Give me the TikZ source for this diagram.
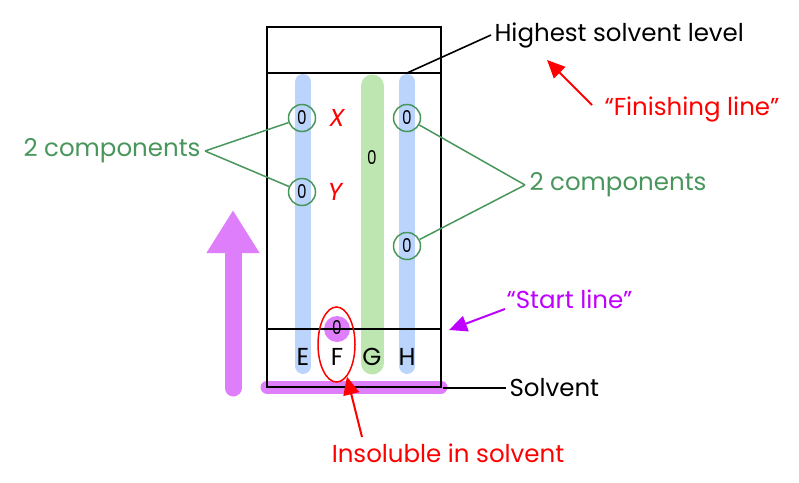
\documentclass[tikz,border=0pt]{standalone}
\usepackage{fontspec}
\setmainfont{Poppins}
\usetikzlibrary{positioning,arrows.meta,shapes.geometric}
\definecolor{laneblue}{RGB}{186,212,252}
\definecolor{lanegreen}{RGB}{190,230,176}
\definecolor{compgreen}{RGB}{72,150,92}
\definecolor{solvpurple}{RGB}{222,126,250}
\definecolor{startpurple}{RGB}{190,0,255}
\newcommand{\spotnum}{\scalebox{0.8}[1]{0}}
\begin{document}
\begin{tikzpicture}[x=1pt,y=-1pt,font=\fontsize{24.5}{28}\selectfont,
  lane/.style={line width=16pt,line cap=round,laneblue},
  spot/.style={circle,draw=compgreen,line width=1.5pt,minimum size=27pt,inner sep=0pt,font=\fontsize{19}{19}\selectfont},
  dot/.style={inner sep=0pt,font=\fontsize{19}{19}\selectfont},
  wall/.style={line width=1.6pt},
  pointer/.style={line width=2pt,-{Triangle[length=18pt,width=16pt]}},
  comp/.style={compgreen,line width=1.5pt}]
 \useasboundingbox (0,0) rectangle (799,482);
 % lanes and solvent
 \draw[lane] (303,82) -- (303,366);
 \draw[lane] (407,82) -- (407,366);
 \draw[lane,lanegreen,line width=23pt] (372,86) -- (372,363);
 \draw[solvpurple,line width=13pt,line cap=round] (267,387) -- (441,387);
 \fill[solvpurple] (337,329) circle (13);
 % beaker
 \draw[wall] (267,27) rectangle (441,387);
 \draw[wall] (267,73) -- (441,73);
 \draw[wall] (267,329) -- (441,329);
 \coordinate (level) at (407,73);
 \coordinate (start) at (449,330);
 \coordinate (bottom) at (443,388);
 % spots
 \node[spot] (E_1) at (302,118) {\spotnum};
 \node[spot] (E_2) at (302,192) {\spotnum};
 \node[spot] (H_1) at (407,118) {\spotnum};
 \node[spot] (H_2) at (407,246) {\spotnum};
 \node[dot] (G_1) at (372,158) {\spotnum};
 \node[dot] (F_1) at (337,328) {\spotnum};
 \node[red] (X) at (337,118) {\itshape X};
 \node[red] (Y) at (335,192) {\itshape Y};
 \node (E) at (303,357) {E};
 \node (F) at (337,357) {F};
 \node (G) at (372,357) {G};
 \node (H) at (407,357) {H};
 \node[ellipse,draw=red,line width=1.5pt,minimum width=37pt,minimum height=75pt,inner sep=0pt] (F_ring) at (336.5,344.5) {};
 % labels
 \coordinate (l_fork) at (205,151);
 \coordinate (r_fork) at (525,185);
 \node[compgreen,left=1pt of l_fork] (l_comp) {2 components};
 \node[compgreen,right=1pt of r_fork] (r_comp) {2 components};
 \path[comp] (l_fork) edge (E_1) edge (E_2);
 \path[comp] (r_fork) edge (H_1) edge (H_2);
 \node[anchor=west] (hsl) at (491,35) {Highest solvent level};
 \draw[wall] (level) -- (hsl.west);
 \node[red,anchor=west] (fin) at (601,109) {“Finishing line”};
 \coordinate (fin_tip) at (547,60);
 \draw[pointer,red] (fin.west) ++(-9,-4) coordinate (fin_tail) (fin_tail) -- (fin_tip);
 \node[startpurple,anchor=west] (sl) at (503,299) {“Start line”};
 \draw[pointer,startpurple] (sl.south west) ++(2,-3) coordinate (sl_tail) (sl_tail) -- (start);
 \node[anchor=west] (solv) at (506,388) {Solvent};
 \draw[line width=1.3pt] (bottom) -- (solv.west);
 \node[red] (insol) at (448,453) {Insoluble in solvent};
 \coordinate (insol_tail) at (362,437);
 \draw[pointer,red] (insol_tail) -- (F_ring.-72);
 % direction of flow
 \coordinate (up_base) at (233,388);
 \coordinate (up_tip) at (233,210);
 \draw[solvpurple,line width=17pt,line cap=round,-{Triangle[length=43pt,width=50pt]}] (up_base) -- (up_tip);
\end{tikzpicture}
\end{document}
